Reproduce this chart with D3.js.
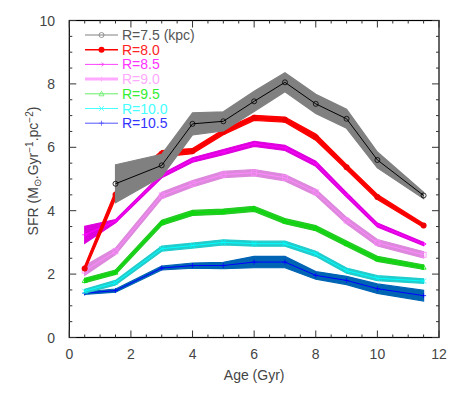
<!DOCTYPE html>
<html>
<head>
    <title>SFR vs Age</title>
    <script src="https://d3js.org/d3.v7.min.js"></script>
    <style>
        body { margin: 0; background: white; }
        text { font-family: "Liberation Sans", Arial, sans-serif; }
    </style>
</head>
<body>
<div id="chart"></div>
<script>
    // ages of the bins (Gyr)
    const ages = [0.5, 1.5, 3, 4, 5, 6, 7, 8, 9, 10, 11.5];

    // SFR per radius, with half-width of the shaded band
    const sfr75 = [null, 4.85, 5.43, 6.74, 6.82, 7.45, 8.05, 7.37, 6.9, 5.6, 4.48];
    const err75 = [null, 0.6, 0.35, 0.35, 0.3, 0.32, 0.3, 0.3, 0.3, 0.25, 0.1];
    const sfr80 = [2.18, 4.5, 5.8, 5.88, 6.48, 6.93, 6.87, 6.32, 5.37, 4.43, 3.53];
    const err80 = [0.08, 0.12, 0.1, 0.08, 0.08, 0.08, 0.08, 0.1, 0.08, 0.08, 0.06];
    const sfr85 = [3.24, 3.67, 5.1, 5.6, 5.85, 6.11, 5.98, 5.48, 4.5, 3.55, 2.95];
    const err85 = [0.27, 0.05, 0.06, 0.07, 0.08, 0.08, 0.08, 0.08, 0.07, 0.06, 0.05];
    const sfr90 = [2.11, 2.72, 4.48, 4.85, 5.14, 5.2, 5.04, 4.58, 3.69, 2.99, 2.61];
    const err90 = [0.15, 0.1, 0.1, 0.1, 0.1, 0.1, 0.1, 0.1, 0.1, 0.1, 0.1];
    const sfr95 = [1.8, 2.06, 3.62, 3.93, 3.97, 4.06, 3.67, 3.45, 2.96, 2.48, 2.22];
    const err95 = [0.07, 0.07, 0.08, 0.08, 0.08, 0.08, 0.08, 0.08, 0.08, 0.08, 0.07];
    const sfr100 = [1.46, 1.73, 2.8, 2.9, 3.0, 2.96, 2.96, 2.64, 2.11, 1.87, 1.78];
    const err100 = [0.06, 0.07, 0.08, 0.08, 0.08, 0.08, 0.08, 0.08, 0.08, 0.08, 0.07];
    const sfr105 = [1.4, 1.48, 2.19, 2.27, 2.27, 2.38, 2.38, 1.96, 1.8, 1.54, 1.32];
    const err105 = [0.04, 0.05, 0.06, 0.08, 0.1, 0.18, 0.18, 0.12, 0.13, 0.15, 0.17];

    const labels = ["R=7.5  (kpc)", "R=8.0", "R=8.5", "R=9.0", "R=9.5", "R=10.0", "R=10.5"];
    const lineColors = ["#000000", "#ee0000", "#ff00ff", "#ff88ff", "#00e000", "#00ffff", "#0000ff"];
    const bandColors = ["#808080", "#ff0000", "#dd00dd", "#dd88dd", "#22cc22", "#22cccc", "#0064b4"];
    const legendLine = ["#808080", "#ff0000", "#ff44ff", "#ffaaff", "#66ee66", "#44ffff", "#5555ff"];
    const legendText = ["#555555", "#ff2222", "#ff33ff", "#ffaaff", "#33ee33", "#44ffff", "#3333ff"];
    const markers = ["circle", "dot", "arrow", "square", "triangle", "cross", "plus"];

    const xTicks = [0, 2, 4, 6, 8, 10, 12];
    const yTicks = [0, 2, 4, 6, 8, 10];

    const series = [
        [sfr75, err75], [sfr80, err80], [sfr85, err85], [sfr90, err90],
        [sfr95, err95], [sfr100, err100], [sfr105, err105]
    ];

    const width = 463, height = 397;
    const svg = d3.select("#chart").append("svg")
        .attr("width", width).attr("height", height);

    const x = d3.scaleLinear().domain([0, 12]).range([69.3, 439]);
    const y = d3.scaleLinear().domain([0, 10]).range([337.5, 20.5]);

    const band = d3.area()
        .defined(d => d.v != null)
        .x(d => x(d.a))
        .y0(d => y(d.v - d.e))
        .y1(d => y(d.v + d.e));
    const line = d3.line()
        .defined(d => d.v != null)
        .x(d => x(d.a))
        .y(d => y(d.v));

    // draw from the innermost radius last so 7.5 ends on top like the original
    series.slice().reverse().forEach((s, ri) => {
        const i = series.length - 1 - ri;
        const pts = ages.map((a, k) => ({ a: a, v: s[0][k], e: s[1][k] }));
        svg.append("path").datum(pts)
            .attr("d", band)
            .attr("fill", bandColors[i])
            .attr("stroke", bandColors[i])
            .attr("stroke-width", 1.2);
        svg.append("path").datum(pts)
            .attr("d", line)
            .attr("fill", "none")
            .attr("stroke", lineColors[i])
            .attr("stroke-width", 1);
        pts.filter(d => d.v != null).forEach(d => {
            drawMarker(svg, markers[i], x(d.a), y(d.v), lineColors[i], 2.5);
        });
    });

    function drawMarker(g, type, cx, cy, col, r) {
        if (type === "circle") {
            g.append("circle").attr("cx", cx).attr("cy", cy).attr("r", r)
                .attr("fill", "none").attr("stroke", col).attr("stroke-width", 0.8);
        } else if (type === "dot") {
            g.append("circle").attr("cx", cx).attr("cy", cy).attr("r", r + 0.5)
                .attr("fill", col);
        } else if (type === "square") {
            g.append("rect").attr("x", cx - r).attr("y", cy - r)
                .attr("width", 2 * r).attr("height", 2 * r)
                .attr("fill", "none").attr("stroke", col).attr("stroke-width", 0.8);
        } else if (type === "triangle") {
            g.append("path").attr("d", `M${cx},${cy - r}L${cx + r},${cy + r * 0.8}L${cx - r},${cy + r * 0.8}Z`)
                .attr("fill", "none").attr("stroke", col).attr("stroke-width", 0.8);
        } else if (type === "cross") {
            g.append("path").attr("d", `M${cx - r},${cy - r}L${cx + r},${cy + r}M${cx - r},${cy + r}L${cx + r},${cy - r}`)
                .attr("stroke", col).attr("stroke-width", 0.8);
        } else if (type === "plus") {
            g.append("path").attr("d", `M${cx - r},${cy}L${cx + r},${cy}M${cx},${cy - r}L${cx},${cy + r}`)
                .attr("stroke", col).attr("stroke-width", 0.8);
        } else if (type === "arrow") {
            g.append("path").attr("d", `M${cx - r},${cy}L${cx + r},${cy}M${cx},${cy - r * 0.7}L${cx + r},${cy}L${cx},${cy + r * 0.7}`)
                .attr("fill", "none").attr("stroke", col).attr("stroke-width", 0.8);
        }
    }

    // frame
    svg.append("rect")
        .attr("x", x(0)).attr("y", y(10))
        .attr("width", x(12) - x(0)).attr("height", y(0) - y(10))
        .attr("fill", "none").attr("stroke", "#000").attr("stroke-width", 1.2);

    // ticks on all four sides (major 2, minor 0.5)
    const tickCol = "#333";
    const xMinor = d3.range(0, 12.01, 0.5);
    const yMinor = d3.range(0, 10.01, 0.5);
    xMinor.forEach(t => {
        const len = (t % 2 === 0) ? 7 : 3;
        svg.append("line").attr("x1", x(t)).attr("x2", x(t))
            .attr("y1", y(0)).attr("y2", y(0) - len).attr("stroke", tickCol);
        svg.append("line").attr("x1", x(t)).attr("x2", x(t))
            .attr("y1", y(10)).attr("y2", y(10) + len).attr("stroke", tickCol);
    });
    yMinor.forEach(t => {
        const len = (t % 2 === 0) ? 7 : 3;
        svg.append("line").attr("x1", x(0)).attr("x2", x(0) + len)
            .attr("y1", y(t)).attr("y2", y(t)).attr("stroke", tickCol);
        svg.append("line").attr("x1", x(12)).attr("x2", x(12) - len)
            .attr("y1", y(t)).attr("y2", y(t)).attr("stroke", tickCol);
    });

    svg.selectAll(".xl").data(xTicks).enter().append("text")
        .attr("x", d => x(d)).attr("y", 359)
        .attr("text-anchor", "middle")
        .attr("fill", "#444").style("font-size", "14px")
        .text(d => d);
    svg.selectAll(".yl").data(yTicks).enter().append("text")
        .attr("x", 55).attr("y", d => y(d) + 5)
        .attr("text-anchor", "end")
        .attr("fill", "#444").style("font-size", "14px")
        .text(d => d);

    svg.append("text")
        .attr("x", x(6)).attr("y", 380)
        .attr("text-anchor", "middle")
        .attr("fill", "#444").style("font-size", "14px")
        .text("Age (Gyr)");

    const yt = svg.append("text")
        .attr("transform", `translate(38,${y(5) - 8}) rotate(-90)`)
        .attr("text-anchor", "middle")
        .attr("fill", "#444").style("font-size", "14px");
    yt.append("tspan").text("SFR (M");
    yt.append("tspan").attr("dy", 3).style("font-size", "10px").text("\u2299");
    yt.append("tspan").attr("dy", -3).text(".Gyr");
    yt.append("tspan").attr("dy", -5).style("font-size", "10px").text("\u22121");
    yt.append("tspan").attr("dy", 5).text(".pc");
    yt.append("tspan").attr("dy", -5).style("font-size", "10px").text("\u22122");
    yt.append("tspan").attr("dy", 5).text(")");

    // legend
    labels.forEach((lab, i) => {
        const ly = 35 + i * 14.7;
        svg.append("line").attr("x1", 85).attr("x2", 118)
            .attr("y1", ly).attr("y2", ly)
            .attr("stroke", legendLine[i]).attr("stroke-width", i === 3 ? 3 : (i === 1 ? 1.5 : 1));
        drawMarker(svg, i === 3 ? "plus" : markers[i], 101.5, ly, legendLine[i], 2.5);
        svg.append("text").attr("x", 122).attr("y", ly + 5)
            .attr("fill", legendText[i]).style("font-size", "14px")
            .text(lab);
    });
</script>
</body>
</html>
